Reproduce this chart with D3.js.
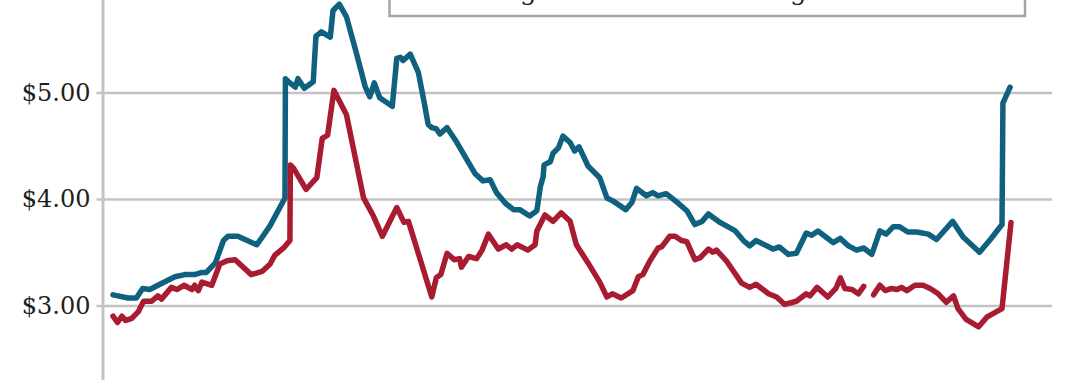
<!DOCTYPE html>
<html>
<head>
<meta charset="utf-8">
<script src="https://cdn.jsdelivr.net/npm/d3@7"></script>
<style>
  body { margin: 0; background: #fff; }
  svg { display: block; }
</style>
</head>
<body>
<div id="chart"></div>
<script>
// price series; t runs 0..100 along the period shown
var tBlue = [0,1.7,2.6,3.3,4.1,5.0,6.9,8.0,9.1,9.9,10.4,11.4,12.3,12.8,13.9,16.0,16.6,17.5,18.2,19.15,19.2,19.7,20.3,20.6,21.3,22.3,22.6,23.2,24.2,24.5,25.2,26.0,27.1,28.1,28.6,29.1,29.7,31.1,31.6,32.0,32.3,33.1,34.0,34.6,35.1,35.5,36.0,36.4,37.2,38.3,39.4,40.3,41.2,42.0,42.7,43.7,44.6,45.3,46.4,47.2,47.6,47.9,48.0,48.7,49.0,49.6,50.1,50.9,51.4,51.9,52.9,54.2,55.0,55.7,57.1,57.8,58.3,59.4,60.1,60.7,61.6,62.8,63.9,64.8,65.6,66.3,67.6,69.3,70.2,70.9,71.6,73.5,74.2,75.2,76.1,77.2,77.8,78.5,80.2,81.0,81.9,82.8,83.6,84.5,85.4,86.1,86.9,87.6,88.5,89.5,90.8,91.7,93.5,94.7,96.5,97.7,99.0,99.1,99.9];
var vBlue = [3.10,3.07,3.07,3.16,3.15,3.19,3.27,3.29,3.29,3.31,3.31,3.40,3.61,3.65,3.65,3.57,3.64,3.75,3.86,4.01,5.13,5.09,5.05,5.13,5.04,5.10,5.53,5.57,5.52,5.77,5.83,5.71,5.37,5.05,4.96,5.09,4.95,4.87,5.32,5.33,5.30,5.36,5.19,4.93,4.70,4.67,4.66,4.61,4.67,4.53,4.37,4.24,4.17,4.18,4.06,3.96,3.90,3.90,3.84,3.89,4.12,4.21,4.32,4.35,4.43,4.48,4.59,4.53,4.45,4.49,4.31,4.20,4.01,3.98,3.90,3.97,4.10,4.03,4.06,4.03,4.05,3.97,3.89,3.76,3.79,3.86,3.78,3.70,3.61,3.56,3.61,3.53,3.55,3.48,3.49,3.68,3.66,3.70,3.59,3.63,3.56,3.52,3.54,3.48,3.70,3.67,3.74,3.74,3.69,3.69,3.67,3.62,3.79,3.64,3.50,3.62,3.76,4.90,5.05];

var tRed = [0,0.5,1.0,1.4,2.1,2.8,3.4,4.3,5.0,5.4,6.5,7.1,7.9,8.8,9.1,9.5,9.9,11.0,11.9,12.7,13.6,15.4,16.6,17.5,18.0,19.0,19.7,19.75,20.1,21.5,22.7,23.3,23.9,24.6,26.0,27.9,29.0,30.0,31.6,32.4,32.9,35.5,36.0,36.5,37.2,38.0,38.6,38.8,39.6,40.5,41.1,41.8,42.9,43.8,44.4,45.0,46.2,47.0,47.2,48.1,49.0,49.9,50.9,51.6,52.9,54.2,55.0,55.6,56.6,57.9,58.5,59.0,59.8,60.7,61.1,62.0,62.6,63.3,63.9,64.8,65.4,66.3,66.8,67.2,68.3,70.0,70.9,71.6,73.0,73.9,74.8,76.1,77.2,77.6,78.4,79.6,80.5,81.0,81.5,82.3,83.0,83.6,84.1,84.7,85.4,86.0,86.7,87.3,87.8,88.4,89.3,90.2,91.0,91.9,92.8,93.6,94.1,95.0,96.4,97.3,99.0,100];
var vRed = [2.90,2.84,2.90,2.86,2.88,2.94,3.04,3.04,3.09,3.06,3.17,3.15,3.19,3.15,3.19,3.14,3.22,3.19,3.39,3.42,3.43,3.29,3.32,3.39,3.47,3.54,3.61,4.32,4.29,4.09,4.20,4.57,4.60,5.02,4.79,4.01,3.84,3.65,3.92,3.78,3.79,3.08,3.26,3.29,3.49,3.43,3.44,3.36,3.46,3.44,3.52,3.67,3.53,3.57,3.53,3.57,3.52,3.57,3.70,3.85,3.79,3.87,3.79,3.57,3.40,3.22,3.08,3.11,3.07,3.14,3.27,3.29,3.42,3.54,3.55,3.65,3.65,3.61,3.60,3.43,3.45,3.53,3.50,3.52,3.42,3.21,3.17,3.20,3.11,3.08,3.01,3.04,3.11,3.09,3.17,3.08,3.16,3.26,3.16,3.15,3.11,3.18,null,3.10,3.19,3.14,3.16,3.15,3.17,3.14,3.19,3.19,3.16,3.11,3.03,3.09,2.97,2.87,2.80,2.89,2.97,3.78];

var yTicks = [3, 4, 5];
var legendLabels = ["California average", "U.S. average"];

var width = 1080,
    height = 380,
    blue = "#0f617f",
    red = "#a81b30";

var svg = d3.select("#chart").append("svg")
    .attr("width", width)
    .attr("height", height);

var x = d3.scaleLinear().domain([0, 100]).range([113, 1011]);
var y = d3.scaleLinear().domain([3, 5]).range([305.5, 92.5]);

// gridlines + labels
var yAxis = svg.append("g")
    .attr("transform", "translate(96.5,0)")
    .call(d3.axisLeft(y)
        .tickValues(yTicks)
        .tickSize(-(1052 - 96.5))
        .tickPadding(6)
        .tickFormat(d3.format("$.2f")));

yAxis.select(".domain").remove();
yAxis.selectAll(".tick line")
    .attr("stroke", "#c3c3c5")
    .attr("stroke-width", 2.5);
yAxis.selectAll(".tick text")
    .attr("fill", "#1e1e1e")
    .style("font-family", "'DejaVu Serif', serif")
    .style("font-size", "24px");

// vertical axis line
svg.append("line")
    .attr("x1", 103).attr("x2", 103)
    .attr("y1", 0).attr("y2", height)
    .attr("stroke", "#c3c3c5")
    .attr("stroke-width", 3);

var line = d3.line()
    .defined(function(d) { return d[1] != null; })
    .x(function(d) { return x(d[0]); })
    .y(function(d) { return y(d[1]); });

svg.append("path")
    .datum(d3.zip(tBlue, vBlue))
    .attr("d", line)
    .attr("fill", "none")
    .attr("stroke", blue)
    .attr("stroke-width", 5.5)
    .attr("stroke-linejoin", "round")
    .attr("stroke-linecap", "round");

svg.append("path")
    .datum(d3.zip(tRed, vRed))
    .attr("d", line)
    .attr("fill", "none")
    .attr("stroke", red)
    .attr("stroke-width", 5.5)
    .attr("stroke-linejoin", "round")
    .attr("stroke-linecap", "round");

// legend box, mostly above the top edge
var legend = svg.append("g");
legend.append("rect")
    .attr("x", 389.5).attr("y", -60)
    .attr("width", 1025 - 389.5).attr("height", 60 + 16)
    .attr("fill", "#fff")
    .attr("stroke", "#a2a6a2")
    .attr("stroke-width", 2.5);

// only the descenders of the legend text reach into view
legend.selectAll("text")
    .data(legendLabels)
    .enter().append("text")
    .attr("x", function(d, i) { return i == 0 ? 552 : 822; })
    .attr("y", -0.5)
    .attr("text-anchor", "end")
    .style("font-family", "'DejaVu Serif', serif")
    .style("font-size", "26px")
    .attr("fill", "#1e1e1e")
    .text(function(d) { return d; });
</script>
</body>
</html>
